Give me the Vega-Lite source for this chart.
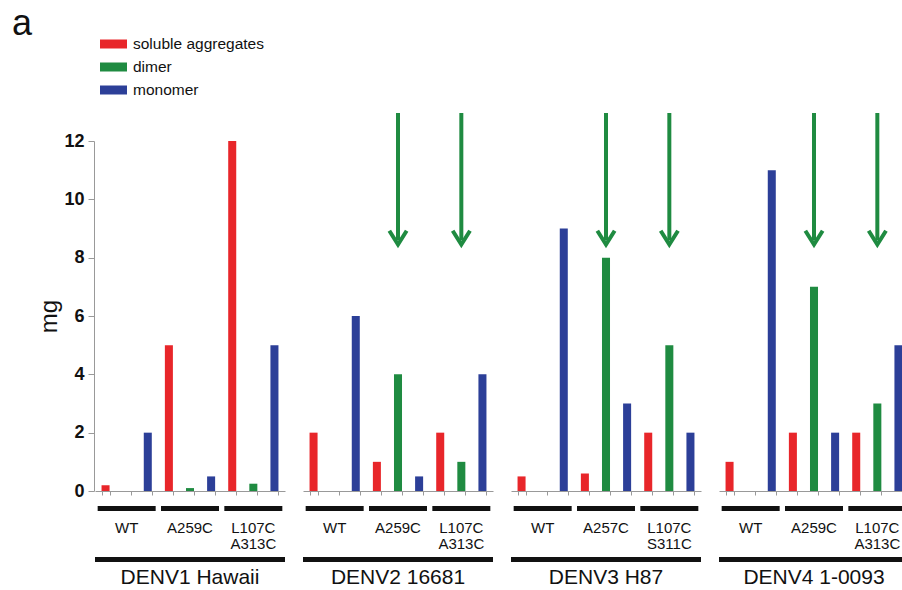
{
  "$schema": "https://vega.github.io/schema/vega-lite/v6.json",
  "padding": {"left": 11, "top": 6, "right": 0, "bottom": 0},
  "title": {"text": "a", "anchor": "start", "fontSize": 36, "fontWeight": "normal", "font": "Liberation Sans", "color": "#111", "dx": -26, "offset": -8},
  "config": {"view": {"stroke": null}, "font": "Liberation Sans"},
  "data": {"values": [
    {"strain": "DENV1 Hawaii", "grp": "WT", "type": "soluble aggregates", "mg": 0.2},
    {"strain": "DENV1 Hawaii", "grp": "WT", "type": "dimer", "mg": 0},
    {"strain": "DENV1 Hawaii", "grp": "WT", "type": "monomer", "mg": 2},
    {"strain": "DENV1 Hawaii", "grp": "A259C", "type": "soluble aggregates", "mg": 5},
    {"strain": "DENV1 Hawaii", "grp": "A259C", "type": "dimer", "mg": 0.1},
    {"strain": "DENV1 Hawaii", "grp": "A259C", "type": "monomer", "mg": 0.5},
    {"strain": "DENV1 Hawaii", "grp": "L107C\nA313C", "type": "soluble aggregates", "mg": 12},
    {"strain": "DENV1 Hawaii", "grp": "L107C\nA313C", "type": "dimer", "mg": 0.25},
    {"strain": "DENV1 Hawaii", "grp": "L107C\nA313C", "type": "monomer", "mg": 5},
    {"strain": "DENV2 16681", "grp": "WT", "type": "soluble aggregates", "mg": 2},
    {"strain": "DENV2 16681", "grp": "WT", "type": "dimer", "mg": 0},
    {"strain": "DENV2 16681", "grp": "WT", "type": "monomer", "mg": 6},
    {"strain": "DENV2 16681", "grp": "A259C", "type": "soluble aggregates", "mg": 1},
    {"strain": "DENV2 16681", "grp": "A259C", "type": "dimer", "mg": 4},
    {"strain": "DENV2 16681", "grp": "A259C", "type": "monomer", "mg": 0.5},
    {"strain": "DENV2 16681", "grp": "L107C\nA313C", "type": "soluble aggregates", "mg": 2},
    {"strain": "DENV2 16681", "grp": "L107C\nA313C", "type": "dimer", "mg": 1},
    {"strain": "DENV2 16681", "grp": "L107C\nA313C", "type": "monomer", "mg": 4},
    {"strain": "DENV3 H87", "grp": "WT", "type": "soluble aggregates", "mg": 0.5},
    {"strain": "DENV3 H87", "grp": "WT", "type": "dimer", "mg": 0},
    {"strain": "DENV3 H87", "grp": "WT", "type": "monomer", "mg": 9},
    {"strain": "DENV3 H87", "grp": "A257C", "type": "soluble aggregates", "mg": 0.6},
    {"strain": "DENV3 H87", "grp": "A257C", "type": "dimer", "mg": 8},
    {"strain": "DENV3 H87", "grp": "A257C", "type": "monomer", "mg": 3},
    {"strain": "DENV3 H87", "grp": "L107C\nS311C", "type": "soluble aggregates", "mg": 2},
    {"strain": "DENV3 H87", "grp": "L107C\nS311C", "type": "dimer", "mg": 5},
    {"strain": "DENV3 H87", "grp": "L107C\nS311C", "type": "monomer", "mg": 2},
    {"strain": "DENV4 1-0093", "grp": "WT", "type": "soluble aggregates", "mg": 1},
    {"strain": "DENV4 1-0093", "grp": "WT", "type": "dimer", "mg": 0},
    {"strain": "DENV4 1-0093", "grp": "WT", "type": "monomer", "mg": 11},
    {"strain": "DENV4 1-0093", "grp": "A259C", "type": "soluble aggregates", "mg": 2},
    {"strain": "DENV4 1-0093", "grp": "A259C", "type": "dimer", "mg": 7},
    {"strain": "DENV4 1-0093", "grp": "A259C", "type": "monomer", "mg": 2},
    {"strain": "DENV4 1-0093", "grp": "L107C\nA313C", "type": "soluble aggregates", "mg": 2},
    {"strain": "DENV4 1-0093", "grp": "L107C\nA313C", "type": "dimer", "mg": 3},
    {"strain": "DENV4 1-0093", "grp": "L107C\nA313C", "type": "monomer", "mg": 5}
  ]},
  "transform": [{"calculate": "datum.grp + '|' + datum.type", "as": "slot"}],
  "facet": {"column": {"field": "strain", "type": "nominal", "header": {"title": null, "labels": false}}},
  "spacing": {"column": 17},
  "resolve": {"scale": {"x": "independent"}, "axis": {"x": "independent"}},
  "spec": {
    "width": 190,
    "height": 350,
    "encoding": {
      "x": {
        "field": "slot", "type": "nominal",
        "sort": ["WT|soluble aggregates", "WT|dimer", "WT|monomer",
                 "A259C|soluble aggregates", "A259C|dimer", "A259C|monomer",
                 "A257C|soluble aggregates", "A257C|dimer", "A257C|monomer",
                 "L107C\nA313C|soluble aggregates", "L107C\nA313C|dimer", "L107C\nA313C|monomer",
                 "L107C\nS311C|soluble aggregates", "L107C\nS311C|dimer", "L107C\nS311C|monomer"],
        "scale": {"paddingInner": 0.62, "paddingOuter": 0.31},
        "axis": {"title": null, "labels": false, "tickBand": "extent", "tickSize": 4, "domainColor": "#999999", "tickColor": "#999999", "grid": false}
      }
    },
    "layer": [
      {
        "mark": {"type": "bar"},
        "encoding": {
          "y": {"field": "mg", "type": "quantitative", "scale": {"domain": [0, 12]},
                "axis": {"title": "mg", "values": [0, 2, 4, 6, 8, 10, 12], "grid": false, "domainColor": "#999999", "tickColor": "#999999", "tickSize": 6, "labelFontSize": 18, "labelFontWeight": "bold", "labelColor": "#111111", "labelPadding": 4, "titleFontSize": 24, "titleFontWeight": "normal", "titleColor": "#111111", "titlePadding": 2}},
          "color": {"field": "type", "type": "nominal",
                    "scale": {"domain": ["soluble aggregates", "dimer", "monomer"], "range": ["#e8262a", "#1f8b41", "#2c3f98"]},
                    "legend": {"title": null, "orient": "none", "legendX": 9.5, "legendY": -106, "symbolType": "M-1.5,-0.5H1.5V0.5H-1.5Z", "symbolSize": 324, "labelFontSize": 15.5, "labelColor": "#111111", "rowPadding": 5, "labelOffset": 10.5, "symbolStrokeWidth": 0}}
        }
      },
      {
        "transform": [{"filter": "datum.type == 'dimer'"}],
        "mark": {"type": "bar", "width": 58, "color": "#111111"},
        "encoding": {"y": {"datum": -0.514}, "y2": {"datum": -0.685}}
      },
      {
        "transform": [{"filter": "datum.type == 'dimer'"}],
        "mark": {"type": "text", "fontSize": 15, "lineBreak": "\n", "lineHeight": 16, "align": "center", "baseline": "alphabetic", "color": "#111111"},
        "encoding": {"y": {"datum": -1.44}, "text": {"field": "grp"}}
      },
      {
        "transform": [{"filter": "datum.type == 'dimer' && datum.grp[0] == 'A'"}],
        "mark": {"type": "bar", "width": 190, "color": "#111111"},
        "encoding": {"y": {"datum": -2.26}, "y2": {"datum": -2.43}}
      },
      {
        "transform": [{"filter": "datum.type == 'dimer' && datum.grp[0] == 'A'"}],
        "mark": {"type": "text", "fontSize": 21, "align": "center", "baseline": "alphabetic", "color": "#111111"},
        "encoding": {"y": {"datum": -3.19}, "text": {"field": "strain"}}
      },
      {
        "transform": [{"filter": "datum.type == 'dimer' && datum.grp != 'WT' && datum.strain != 'DENV1 Hawaii'"}],
        "mark": {"type": "rule", "strokeWidth": 4, "color": "#1f8b41"},
        "encoding": {"y": {"datum": 12.96}, "y2": {"datum": 8.6}}
      },
      {
        "transform": [{"filter": "datum.type == 'dimer' && datum.grp != 'WT' && datum.strain != 'DENV1 Hawaii'"}],
        "mark": {"type": "point", "shape": "M-1,-1.6L0,0L1,-1.6", "filled": false, "strokeWidth": 4, "size": 300, "color": "#1f8b41", "opacity": 1, "strokeJoin": "miter"},
        "encoding": {"y": {"datum": 8.45}}
      }
    ]
  }
}
